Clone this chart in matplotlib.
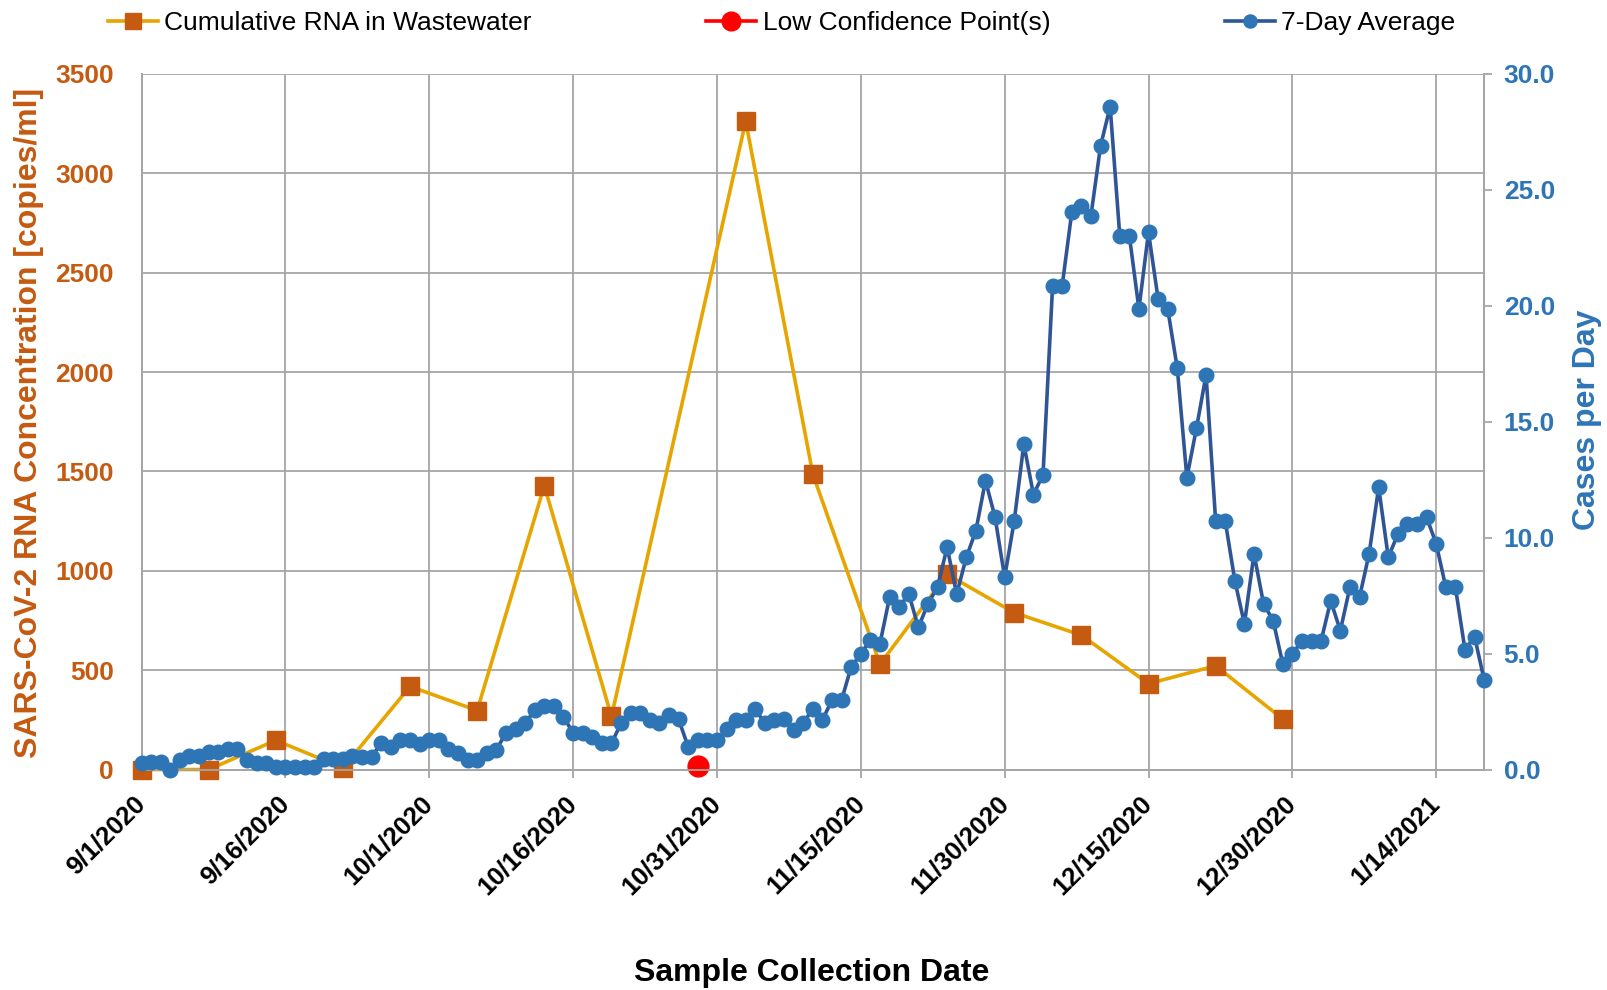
import matplotlib
matplotlib.use("Agg")
import matplotlib.pyplot as plt
import pandas as pd
import numpy as np

plt.rcParams['font.family'] = ['Liberation Sans', 'DejaVu Sans']

# ---------------- data ----------------
rna_dates = ["2020-09-01", "2020-09-08", "2020-09-15", "2020-09-22", "2020-09-29",
             "2020-10-06", "2020-10-13", "2020-10-20", "2020-11-03",
             "2020-11-10", "2020-11-17", "2020-11-24", "2020-12-01", "2020-12-08",
             "2020-12-15", "2020-12-22", "2020-12-29"]
rna_values = [0, 0, 147, 8, 418, 297, 1428, 267, 3262,
              1486, 530, 982, 789, 676, 432, 522, 254]

low_conf_dates = ["2020-10-29"]
low_conf_values = [20]

avg_start = "2020-09-01"
avg_values = [0.27, 0.34, 0.34, 0.0, 0.43, 0.6, 0.6, 0.75, 0.75, 0.89,
              0.89, 0.41, 0.28, 0.27, 0.1, 0.1, 0.1, 0.1, 0.1, 0.44,
              0.44, 0.44, 0.58, 0.56, 0.55, 1.14, 0.97, 1.28, 1.28, 1.11,
              1.27, 1.27, 0.87, 0.7, 0.41, 0.41, 0.71, 0.86, 1.57, 1.73,
              1.99, 2.57, 2.73, 2.74, 2.28, 1.57, 1.56, 1.42, 1.13, 1.13,
              1.99, 2.42, 2.42, 2.14, 1.99, 2.35, 2.17, 0.98, 1.27, 1.27,
              1.27, 1.73, 2.14, 2.14, 2.6, 1.99, 2.14, 2.17, 1.7, 2.02,
              2.6, 2.14, 3.0, 3.0, 4.43, 4.98, 5.59, 5.43, 7.43, 7.0,
              7.58, 6.13, 7.15, 7.86, 9.59, 7.57, 9.15, 10.3, 12.46, 10.88,
              8.29, 10.73, 14.04, 11.86, 12.71, 20.87, 20.87, 24.04, 24.32, 23.89,
              26.9, 28.59, 23.03, 23.03, 19.87, 23.17, 20.3, 19.87, 17.31, 12.59,
              14.72, 17.02, 10.72, 10.72, 8.15, 6.28, 9.3, 7.14, 6.42, 4.55,
              4.98, 5.56, 5.56, 5.56, 7.28, 5.99, 7.86, 7.43, 9.3, 12.17,
              9.15, 10.16, 10.59, 10.59, 10.88, 9.73, 7.86, 7.86, 5.16, 5.73,
              3.86]

xtick_dates = ["2020-09-01", "2020-09-16", "2020-10-01", "2020-10-16", "2020-10-31",
               "2020-11-15", "2020-11-30", "2020-12-15", "2020-12-30", "2021-01-14"]
xtick_labels = ["9/1/2020", "9/16/2020", "10/1/2020", "10/16/2020", "10/31/2020",
                "11/15/2020", "11/30/2020", "12/15/2020", "12/30/2020", "1/14/2021"]
left_ticks = [0, 500, 1000, 1500, 2000, 2500, 3000, 3500]
right_ticks = [0, 5, 10, 15, 20, 25, 30]

legend_labels = ["Cumulative RNA in Wastewater", "Low Confidence Point(s)", "7-Day Average"]

# ---------------- styles ----------------
ORANGE_LINE = "#E6A500"
ORANGE_MARK = "#C55A11"
BLUE_LINE = "#2F5597"
BLUE_MARK = "#2E75B6"
RED = "#FF0000"
GRID = "#A6A6A6"

fig = plt.figure(figsize=(16.08, 9.90), dpi=100)
ax = fig.add_axes([0.088, 0.2227, 0.835, 0.7026])
ax2 = ax.twinx()

l1, = ax.plot(pd.to_datetime(rna_dates), rna_values, color=ORANGE_LINE, lw=2.6,
              marker="s", markersize=13, markerfacecolor=ORANGE_MARK,
              markeredgecolor=ORANGE_MARK, zorder=3, clip_on=False)
l2, = ax.plot(pd.to_datetime(low_conf_dates), low_conf_values, color=RED, lw=2.6,
              marker="o", markersize=15, markerfacecolor=RED, markeredgecolor=RED,
              zorder=4, clip_on=False)

avg_x = pd.date_range(avg_start, periods=len(avg_values), freq="D")
l3, = ax2.plot(avg_x, avg_values, color=BLUE_LINE, lw=2.6, marker="o", markersize=10.5,
               markerfacecolor=BLUE_MARK, markeredgecolor=BLUE_MARK, zorder=5,
               clip_on=False)

ax.set_xlim(pd.Timestamp("2020-09-01"), pd.Timestamp("2021-01-19"))
ax.set_ylim(0, 3500)
ax2.set_ylim(0, 30)

ax.set_xticks(pd.to_datetime(xtick_dates))
ax.set_xticklabels(xtick_labels, rotation=45, ha="right", va="center",
                   rotation_mode="anchor", fontsize=18.5, fontweight="bold")
ax.set_yticks(left_ticks)
ax.set_yticklabels([str(t) for t in left_ticks], fontsize=19, fontweight="bold",
                   color=ORANGE_MARK)
ax2.set_yticks(right_ticks)
ax2.set_yticklabels([f"{t:.1f}" for t in right_ticks], fontsize=19, fontweight="bold",
                    color=BLUE_MARK)

ax.grid(True, color=GRID, lw=1.3)
ax.set_axisbelow(True)
ax.tick_params(axis="x", length=6, width=1.3, color=GRID, pad=16)
ax.tick_params(axis="y", length=0, pad=20)
ax2.tick_params(axis="y", length=6, width=1.3, color=GRID, pad=8)

for a in (ax, ax2):
    a.spines["top"].set_visible(False)
    for s in ("left", "bottom", "right"):
        a.spines[s].set_color(GRID)
        a.spines[s].set_linewidth(1.3)

fig.text(0.018, 0.573, "SARS-CoV-2 RNA Concentration [copies/ml]", rotation=90,
         ha="center", va="center", fontsize=23, fontweight="bold", color=ORANGE_MARK)
fig.text(0.987, 0.576, "Cases per Day", rotation=90, ha="center", va="center",
         fontsize=23, fontweight="bold", color=BLUE_MARK)
fig.text(0.505, 0.017, "Sample Collection Date", ha="center", va="center",
         fontsize=23, fontweight="bold", color="black")

fig.legend([l1, l2, l3], legend_labels, loc="center", bbox_to_anchor=(0.486, 0.977),
           ncol=3, frameon=False, fontsize=19, columnspacing=6.6, handlelength=1.9,
           handletextpad=0.25, markerscale=0.9)

fig.savefig("out.png", dpi=100)
